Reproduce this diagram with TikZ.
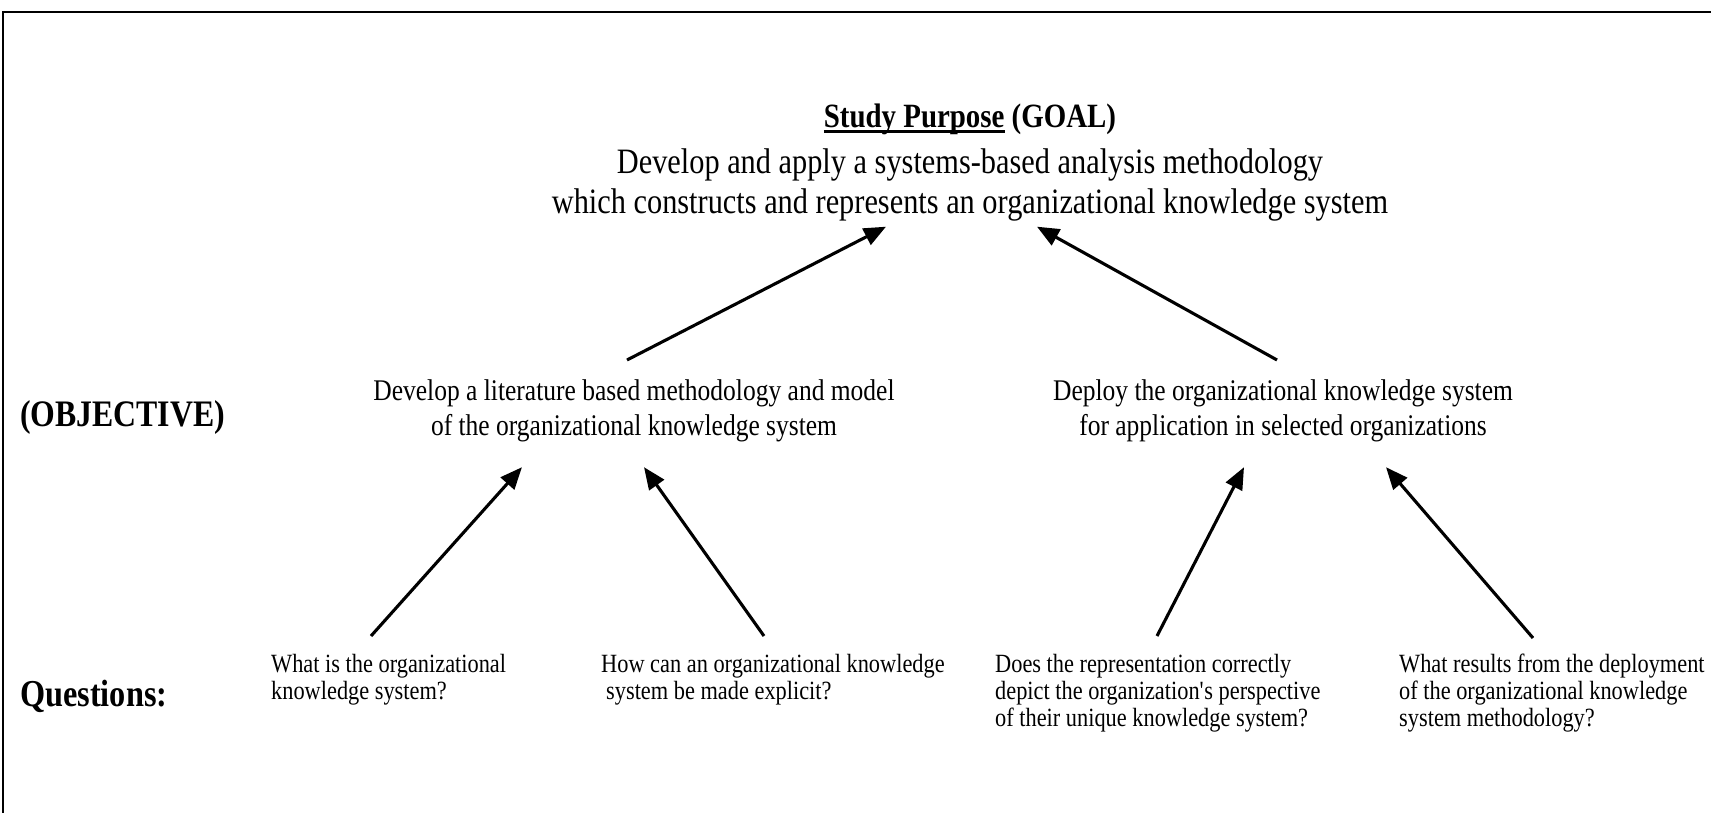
\documentclass[tikz,border=0pt]{standalone}
\usepackage{fontspec}
\setmainfont{Liberation Serif}[FakeStretch=0.85]
\usetikzlibrary{arrows.meta}
\newcommand\myul[1]{\setbox0\hbox{#1}\rlap{\rule[-5pt]{\wd0}{2.5pt}}\box0\relax}
\begin{document}
\begin{tikzpicture}[x=1pt,y=-1pt,
  goaltext/.style={inner sep=0pt,align=center,font=\fontsize{35.7}{40}\selectfont},
  objtext/.style={inner sep=0pt,align=center,font=\fontsize{30}{35.5}\selectfont},
  qtext/.style={inner sep=0pt,align=left,anchor=north west,font=\fontsize{26.3}{27}\selectfont},
  rowlabel/.style={inner sep=0pt,anchor=west,font=\bfseries\fontsize{37.4}{40}\selectfont},
  arr/.style={line width=3.1pt,-{Triangle[length=22pt,width=18pt]}},
  frame/.style={line width=2.5pt}]
\useasboundingbox (0,0) rectangle (1711,813);
\fill[white] (0,0) rectangle (1711,813);
\draw[frame] (1711,12) -- (3,12) -- (3,813);

\node[goaltext,anchor=north] (goal) at (970,104)
  {{\bfseries\fontsize{34}{40}\selectfont\myul{Study Purpose} (GOAL)}\\[6pt]
   Develop and apply a systems-based analysis methodology\\
   which constructs and represents an organizational knowledge system};

\node[rowlabel] (objlabel) at (20,418) {(OBJECTIVE)};
\node[objtext,anchor=north] (objL) at (634,379)
  {Develop a literature based methodology and model\\
   of the organizational knowledge system};
\node[objtext,anchor=north] (objR) at (1283,379)
  {Deploy the organizational knowledge system\\
   for application in selected organizations};

\node[rowlabel,font=\bfseries\fontsize{38}{42}\selectfont] (qlabel) at (20,696) {Questions:};
\node[qtext] (q1) at (271,654) {What is the organizational\\knowledge system?};
\node[qtext] (q2) at (601,654) {How can an organizational knowledge\\\hspace*{5pt}system be made explicit?};
\node[qtext] (q3) at (995,654) {Does the representation correctly\\depict the organization\textquotesingle s perspective\\of their unique knowledge system?};
\node[qtext] (q4) at (1399,654) {What results from the deployment\\of the organizational knowledge\\system methodology?};

\draw[arr] ([xshift=-7pt,yshift=19pt]objL.north) -- ([xshift=-84pt,yshift=-5pt]goal.south);
\draw[arr] ([xshift=-6pt,yshift=19pt]objR.north) -- ([xshift=67pt,yshift=-5pt]goal.south);

\draw[arr] ([xshift=100pt,yshift=18pt]q1.north west) -- ([xshift=-112pt,yshift=-25pt]objL.south);
\draw[arr] ([xshift=163pt,yshift=18pt]q2.north west) -- ([xshift=10pt,yshift=-25pt]objL.south);
\draw[arr] ([xshift=162pt,yshift=18pt]q3.north west) -- ([xshift=-39pt,yshift=-25pt]objR.south);
\draw[arr] ([xshift=134pt,yshift=16pt]q4.north west) -- ([xshift=103pt,yshift=-25pt]objR.south);
\end{tikzpicture}
\end{document}
